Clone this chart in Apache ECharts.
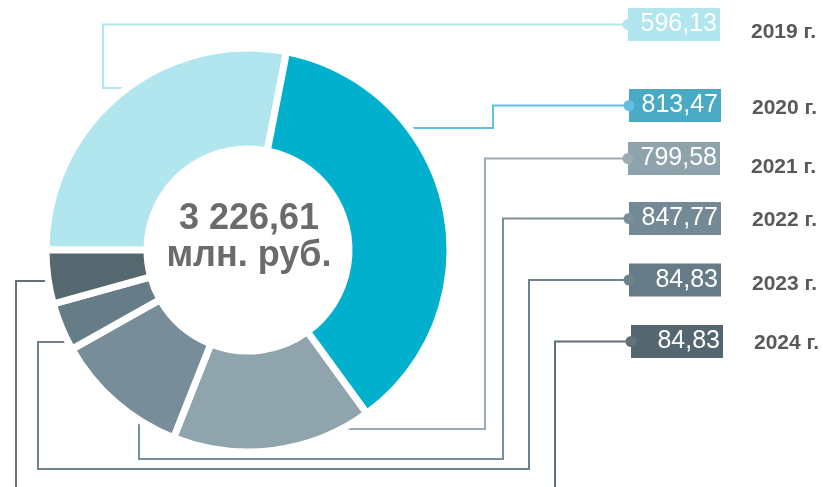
<!DOCTYPE html>
<html>
<head>
<meta charset="utf-8">
<script src="https://cdn.jsdelivr.net/npm/echarts@6/dist/echarts.min.js"></script>
<style>
    html, body { margin: 0; padding: 0; background: #fff; }
    #chart-container { width: 823px; height: 487px; }
</style>
</head>
<body>
<div id="chart-container"></div>
<script>
// data
const years = ['2019 г.', '2020 г.', '2021 г.', '2022 г.', '2023 г.', '2024 г.'];
const values = ['596,13', '813,47', '799,58', '847,77', '84,83', '84,83'];
const totalText = '3 226,61';
const unitText = 'млн. руб.';
// arc of each slice as drawn in the picture (degrees) - the drawing is not scaled by value
const sliceArc = [101, 133, 57.6, 39, 13.9, 15.5];

// styles
const sliceColors = ['#b2e6ee', '#00b0cd', '#90a4ae', '#778d99', '#667c87', '#56686f'];
const boxColors = ['#b2e6ee', '#4aaac4', '#8fa3ad', '#738995', '#657b87', '#546670'];
const lineColors = ['#b2e6ee', '#62bfe3', '#9aabb4', '#7a8f9a', '#6d828d', '#5f727b'];
const FONT = 'Arial, "Liberation Sans", sans-serif';

// label box anchors (left edge, middle), year label nudges and leader routes
const boxPos = [[628, 24.5], [629, 105.5], [628, 158.5], [629, 218.5], [629, 280], [631, 341.5]];
const yearShift = [7.5, 2.5, 9, 2, 4, 2];
const leaderRoutes = [
    [[628, 24.5], [103, 24.5], [103, 88], [142, 88]],
    [[629, 105.5], [493, 105.5], [493, 128], [402, 128]],
    [[628, 158.5], [485, 158.5], [485, 429], [340, 429]],
    [[629, 218.5], [503, 218.5], [503, 459], [139, 459], [139, 410]],
    [[629, 280], [529, 280], [529, 469], [38, 469], [38, 342], [70, 342]],
    [[631, 341.5], [555, 341.5], [555, 500], [16, 500], [16, 281], [52, 281]]
];

const BOX_W = 92;
const VAL_SIZE = 25;

// measure value text so it sits right-aligned in its box
const measureCtx = document.createElement('canvas').getContext('2d');
measureCtx.font = VAL_SIZE + 'px ' + FONT;
function textWidth(t) {
    return measureCtx.measureText(t).width;
}

const chartDom = document.getElementById('chart-container');
const myChart = echarts.init(chartDom, null, {renderer: 'canvas'});

const rich = {};
boxColors.forEach((c, i) => {
    const w = textWidth(values[i]);
    rich['b' + i] = {
        fontFamily: FONT,
        fontSize: VAL_SIZE,
        color: '#fff',
        backgroundColor: c,
        lineHeight: 27,
        padding: [4, 3, 4, Math.max(2, BOX_W - 3 - w)]
    };
    rich['y' + i] = {
        fontFamily: FONT,
        fontSize: 21,
        fontWeight: 'bold',
        color: '#595959',
        lineHeight: 14,
        padding: [2 * yearShift[i], 0, 0, 31]
    };
});

const pieData = sliceArc.map((v, i) => ({
    name: years[i],
    value: v,
    itemStyle: {color: sliceColors[i]},
    labelLine: {lineStyle: {color: lineColors[i], width: 2}}
}));

const graphics = [{
    type: 'text',
    x: 249,
    y: 238,
    z: 10,
    style: {
        text: totalText + '\n' + unitText,
        font: 'bold 36px ' + FONT,
        lineHeight: 37,
        fill: '#6b6b6b',
        align: 'center',
        verticalAlign: 'middle'
    }
}];
boxPos.forEach((p, i) => {
    graphics.push({
        type: 'circle',
        z: 20,
        shape: {cx: p[0], cy: p[1], r: 5.5},
        style: {fill: lineColors[i]}
    });
});

const option = {
    animation: false,
    backgroundColor: '#fff',
    series: [{
        type: 'pie',
        center: [248, 250],
        radius: [101, 202],
        startAngle: 180,
        clockwise: true,
        avoidLabelOverlap: false,
        itemStyle: {borderColor: '#fff', borderWidth: 7},
        emphasis: {disabled: true},
        label: {
            show: true,
            position: 'outside',
            formatter: p => '{b' + p.dataIndex + '|' + values[p.dataIndex] + '}{y' + p.dataIndex + '|' + years[p.dataIndex] + '}',
            rich: rich
        },
        labelLine: {show: true, smooth: false},
        labelLayout: function (params) {
            const i = params.dataIndex;
            return {
                x: boxPos[i][0],
                y: boxPos[i][1],
                align: 'left',
                verticalAlign: 'middle',
                labelLinePoints: leaderRoutes[i]
            };
        },
        data: pieData
    }],
    graphic: graphics
};

option && myChart.setOption(option, true);
</script>
</body>
</html>
